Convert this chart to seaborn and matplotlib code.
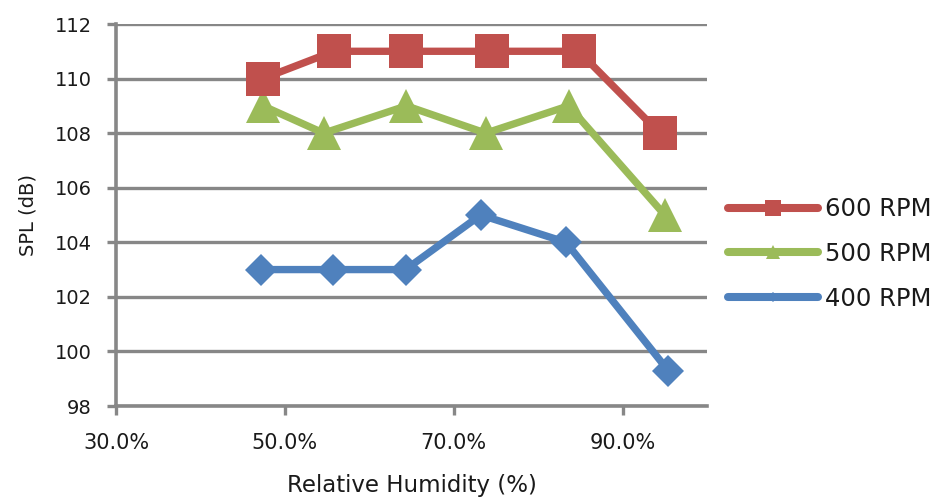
import matplotlib
matplotlib.use("Agg")
import matplotlib.pyplot as plt
import seaborn as sns
import pandas as pd
from matplotlib.lines import Line2D

# Data
rh_600 = [47.4, 55.8, 64.3, 74.5, 84.8, 94.4]
spl_600 = [110, 111, 111, 111, 111, 108]
rh_500 = [47.4, 54.6, 64.4, 73.8, 83.6, 95.0]
spl_500 = [109, 108, 109, 108, 109, 105]
rh_400 = [47.2, 55.7, 64.3, 73.2, 83.3, 95.4]
spl_400 = [103, 103, 103, 105, 104, 99.3]

series_names = ["600 RPM", "500 RPM", "400 RPM"]
x_ticks = [30, 50, 70, 90]
x_tick_labels = ["30.0%", "50.0%", "70.0%", "90.0%"]
y_ticks = [98, 100, 102, 104, 106, 108, 110, 112]

sns.set_theme(style="white")
plt.rcParams['font.family'] = ['DejaVu Sans']

fig = plt.figure(figsize=(9.41, 4.97), dpi=100)
ax = fig.add_axes([116/941, 1 - 406/497, (707-116)/941, (406-24)/497])

grey = "#878787"
txt = "#1a1a1a"
styles = {
    "600 RPM": dict(color="#C0504D", marker="s", ms=25, lms=11),
    "500 RPM": dict(color="#9BBB59", marker="^", ms=24, lms=10),
    "400 RPM": dict(color="#4F81BD", marker="D", ms=16.5, lms=5),
}
data = {
    "600 RPM": (rh_600, spl_600),
    "500 RPM": (rh_500, spl_500),
    "400 RPM": (rh_400, spl_400),
}

for y in y_ticks:
    ax.axhline(y, color=grey, lw=2.4, zorder=0)

for name in ["400 RPM", "500 RPM", "600 RPM"]:
    xs, ys = data[name]
    df = pd.DataFrame({"RH": xs, "SPL": ys})
    st = styles[name]
    sns.lineplot(data=df, x="RH", y="SPL", ax=ax, color=st["color"], lw=5.3,
                 marker=st["marker"], markersize=st["ms"], markeredgewidth=0,
                 sort=False, zorder=3, solid_joinstyle="round",
                 solid_capstyle="round")

ax.set_xlim(30, 100)
ax.set_ylim(98, 112)
ax.set_xticks(x_ticks)
ax.set_xticklabels(x_tick_labels)
ax.set_yticks(y_ticks)
ax.grid(False)
for s in ["top", "right"]:
    ax.spines[s].set_visible(False)
for s in ["left", "bottom"]:
    ax.spines[s].set_color(grey)
    ax.spines[s].set_linewidth(2.6)
ax.tick_params(axis="both", direction="out", length=6.5, width=2.4, color=grey,
               labelcolor=txt, left=True, bottom=True)
ax.tick_params(axis="y", labelsize=14, pad=11)
ax.tick_params(axis="x", labelsize=15, pad=13)
ax.set_xlabel("Relative Humidity (%)", fontsize=16.5, labelpad=15, color=txt)
ax.set_ylabel("SPL (dB)", fontsize=14, labelpad=12, color=txt)

handles = []
for name in series_names:
    st = styles[name]
    handles.append(Line2D([], [], color=st["color"], lw=5.8, marker=st["marker"],
                          markersize=st["lms"], markeredgewidth=0,
                          solid_capstyle="round"))
fig.legend(handles, series_names, loc="center left",
           bbox_to_anchor=(728/941, 1 - 254/497), frameon=False,
           fontsize=17.5, handlelength=3.7, handletextpad=0.3, labelspacing=0.85,
           borderaxespad=0, borderpad=0, labelcolor=txt)

fig.savefig("out.png", dpi=100)
